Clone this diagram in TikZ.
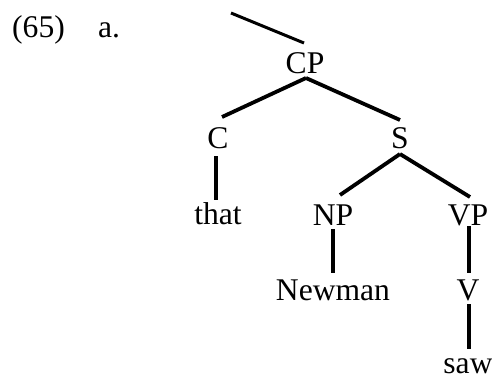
\documentclass[tikz,border=0pt]{standalone}
\usepackage{fontspec}
\setmainfont{Liberation Serif}
\usetikzlibrary{calc}
\begin{document}
\begin{tikzpicture}[x=1pt,y=-1pt,
  lbl/.style={inner sep=0pt,anchor=base,font=\fontsize{31.6}{36}\selectfont},
  branch/.style={line width=3.8pt}]
\useasboundingbox (0,0) rectangle (492,376);
\node[lbl,anchor=base west] (ex) at (12,37) {(65)};
\node[lbl,anchor=base west] (a) at (98,37) {a.};
\node[lbl] (cp) at (305,73) {CP};
\node[lbl] (c) at (218,148) {C};
\node[lbl] (s) at (400,148) {S};
\node[lbl] (that) at (218,224) {that};
\node[lbl] (np) at (333,225) {NP};
\node[lbl] (vp) at (468,225) {VP};
\node[lbl] (newman) at (333,300) {Newman};
\node[lbl] (v) at (468,300) {V};
\node[lbl] (saw) at (468,373) {saw};
\coordinate (top) at (231,13);
\draw[line width=3pt] (top) -- ($(cp.base)+(-1,-30)$);
\draw[branch] ($(cp.base)+(1,5)$) -- ($(c.base)+(4,-31)$);
\draw[branch] ($(cp.base)+(1,5)$) -- ($(s.base)+(0,-28)$);
\draw[branch] ($(c.base)+(-2,8)$) -- ($(that.base)+(-2,-24)$);
\draw[branch] ($(s.base)+(0,6)$) -- ($(np.base)+(7,-30)$);
\draw[branch] ($(s.base)+(0,6)$) -- ($(vp.base)+(2,-28)$);
\draw[branch] ($(np.base)+(0,4)$) -- ($(newman.base)+(0,-27)$);
\draw[branch] ($(vp.base)+(1,1)$) -- ($(v.base)+(1,-27)$);
\draw[branch] ($(v.base)+(1,4)$) -- ($(saw.base)+(1,-24)$);
\end{tikzpicture}
\end{document}
